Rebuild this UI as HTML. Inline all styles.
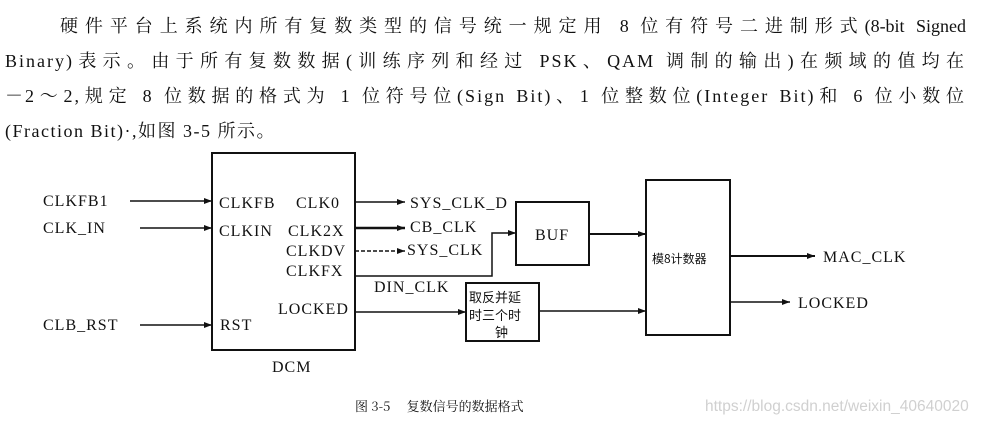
<!DOCTYPE html>
<html><head><meta charset="utf-8"><style>
body{margin:0;background:#fff;width:986px;height:423px;overflow:hidden;position:relative}
.t{position:absolute;font-family:"Liberation Serif","Noto Serif CJK SC",serif;font-size:18px;color:#111;white-space:nowrap;text-align:justify;text-align-last:justify}
</style></head><body>
<div class="t" style="left:60px;top:12px;width:906px">硬件平台上系统内所有复数类型的信号统一规定用 8 位有符号二进制形式(8-bit Signed</div>
<div class="t" style="left:5px;top:47px;width:961px;letter-spacing:2px">Binary)表示。由于所有复数数据(训练序列和经过 PSK、QAM 调制的输出)在频域的值均在</div>
<div class="t" style="left:5px;top:82px;width:961px;letter-spacing:2px">－2～2,规定 8 位数据的格式为 1 位符号位(Sign Bit)、1 位整数位(Integer Bit)和 6 位小数位</div>
<div class="t" style="left:5px;top:117px;text-align-last:auto;letter-spacing:1.5px">(Fraction Bit)·,如图 3-5 所示。</div>
<svg width="986" height="423" style="position:absolute;left:0;top:0" font-family="Liberation Serif,serif" font-size="16" letter-spacing="1" fill="#111">
<defs><marker id="a" markerWidth="8" markerHeight="6" refX="8" refY="3" orient="auto" markerUnits="userSpaceOnUse"><path d="M0,0L8,3L0,6z" fill="#111"/></marker></defs>
<g stroke="#111" stroke-width="1.5" fill="none">
<rect x="212" y="153" width="143" height="197" stroke-width="2"/>
<rect x="516" y="202" width="73" height="63" stroke-width="2"/>
<rect x="646" y="180" width="84" height="155" stroke-width="2"/>
<rect x="466" y="283" width="73" height="58" stroke-width="2"/>
<line x1="130" y1="201" x2="212" y2="201" marker-end="url(#a)"/>
<line x1="140" y1="228" x2="212" y2="228" marker-end="url(#a)"/>
<line x1="140" y1="325" x2="212" y2="325" marker-end="url(#a)"/>
<line x1="355" y1="202" x2="405" y2="202" marker-end="url(#a)"/>
<line x1="355" y1="228" x2="405" y2="228" stroke-width="2.5" marker-end="url(#a)"/>
<line x1="355" y1="251" x2="405" y2="251" stroke-dasharray="4,2" marker-end="url(#a)"/>
<polyline points="355,276 492,276 492,233 516,233" marker-end="url(#a)"/>
<line x1="355" y1="312" x2="466" y2="312" marker-end="url(#a)"/>
<line x1="589" y1="234" x2="646" y2="234" stroke-width="2" marker-end="url(#a)"/>
<line x1="539" y1="311" x2="646" y2="311" marker-end="url(#a)"/>
<line x1="730" y1="256" x2="815" y2="256" stroke-width="2" marker-end="url(#a)"/>
<line x1="730" y1="302" x2="790" y2="302" marker-end="url(#a)"/>
</g>
<text x="43" y="206">CLKFB1</text><text x="43" y="233">CLK_IN</text><text x="43" y="330">CLB_RST</text>
<text x="219" y="208">CLKFB</text><text x="296" y="208">CLK0</text>
<text x="219" y="236">CLKIN</text><text x="288" y="236">CLK2X</text>
<text x="286" y="256">CLKDV</text><text x="286" y="276">CLKFX</text>
<text x="278" y="314">LOCKED</text><text x="220" y="330">RST</text>
<text x="272" y="372">DCM</text>
<text x="410" y="208">SYS_CLK_D</text><text x="410" y="232">CB_CLK</text><text x="407" y="255">SYS_CLK</text>
<text x="374" y="292">DIN_CLK</text>
<text x="535" y="240">BUF</text>
<text x="823" y="262">MAC_CLK</text><text x="798" y="308">LOCKED</text>
<g font-family="Noto Sans CJK SC,sans-serif" font-size="13" letter-spacing="0"><text x="469" y="302">取反并延</text><text x="469" y="320">时三个时</text><text x="495" y="337">钟</text>
<text x="652" y="263" font-size="12">模8计数器</text>
<text x="355" y="411" font-size="13" font-family="Noto Serif CJK SC,serif">图 3-5　 复数信号的数据格式</text></g>
<text x="705" y="411" font-family="Liberation Sans,sans-serif" font-size="15.5" letter-spacing="0" fill="#d0d0d0">https://blog.csdn.net/weixin_40640020</text>
</svg>
</body></html>
